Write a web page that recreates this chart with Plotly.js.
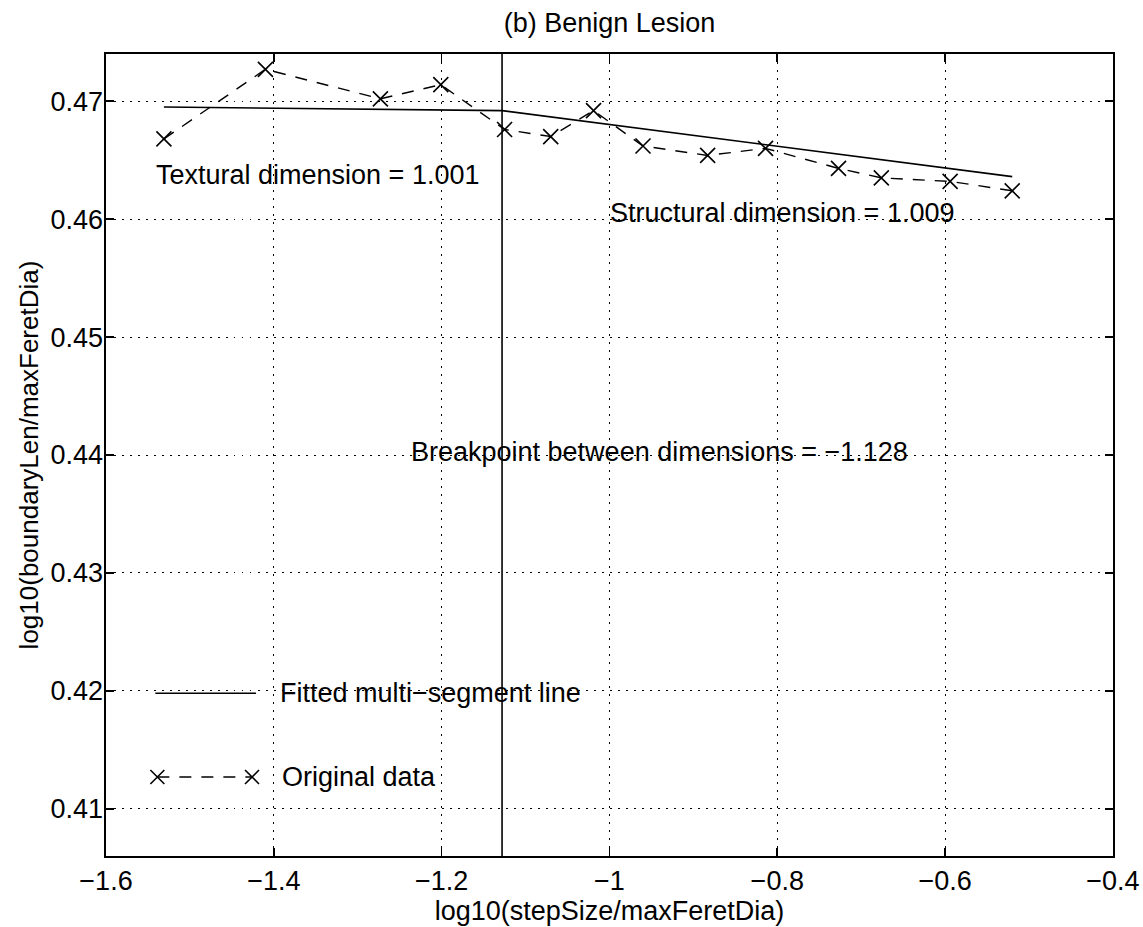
<!DOCTYPE html>
<html>
<head>
<meta charset="utf-8">
<script src="https://cdn.plot.ly/plotly-3.0.1.min.js"></script>
<style>html,body{margin:0;padding:0;background:#fff;}#chart{width:1143px;height:927px;}</style>
</head>
<body>
<div id="chart"></div>
<script>
// ---- data ----
const stepLog = [-1.531, -1.410, -1.273, -1.201, -1.125, -1.070, -1.019, -0.960, -0.883, -0.814, -0.727, -0.676, -0.594, -0.520];
const boundaryLog = [0.4668, 0.4727, 0.4702, 0.4714, 0.4676, 0.4670, 0.4692, 0.4662, 0.4654, 0.4660, 0.4643, 0.4635, 0.4632, 0.4624];
const fitX = [-1.531, -1.128, -0.520];
const fitY = [0.4695, 0.4692, 0.4636];
const breakpoint = -1.128;
const texturalDim = 1.001;
const structuralDim = 1.009;
const xTicks = [-1.6, -1.4, -1.2, -1, -0.8, -0.6, -0.4];
const xTickText = ['\u22121.6', '\u22121.4', '\u22121.2', '\u22121', '\u22120.8', '\u22120.6', '\u22120.4'];
const yTicks = [0.41, 0.42, 0.43, 0.44, 0.45, 0.46, 0.47];
const yTickText = ['0.41', '0.42', '0.43', '0.44', '0.45', '0.46', '0.47'];
const legendLabels = ['Fitted multi\u2212segment line', 'Original data'];

const FONT = 'Liberation Sans, Arial, Helvetica, sans-serif';
const FS = 27;

const traces = [
  {
    x: fitX, y: fitY, type: 'scatter', mode: 'lines',
    line: {color: '#000', width: 1.6}, showlegend: false, hoverinfo: 'skip'
  },
  {
    x: stepLog, y: boundaryLog, type: 'scatter', mode: 'lines+markers',
    line: {color: '#000', width: 1.4, dash: '12px,10px'},
    marker: {symbol: 'x-thin-open', size: 15, color: '#000', line: {color: '#000', width: 1.6}},
    showlegend: false, hoverinfo: 'skip'
  }
];

function xMark(xp, yp) {
  return {
    type: 'path', xref: 'paper', yref: 'paper', xsizemode: 'pixel', ysizemode: 'pixel',
    xanchor: xp, yanchor: yp, path: 'M-7,-7L7,7M-7,7L7,-7',
    line: {color: '#000', width: 1.6}
  };
}

const shapes = [
  {type: 'line', xref: 'x', yref: 'paper', x0: breakpoint, x1: breakpoint, y0: 0, y1: 1,
   line: {color: '#000', width: 1.6}},
  // legend samples
  {type: 'line', xref: 'paper', yref: 'paper', x0: 0.049, x1: 0.149, y0: 0.203, y1: 0.203,
   line: {color: '#000', width: 1.6}},
  {type: 'line', xref: 'paper', yref: 'paper', x0: 0.051, x1: 0.145, y0: 0.0985, y1: 0.0985,
   line: {color: '#000', width: 1.4, dash: '12px,10px'}},
  xMark(0.051, 0.0985),
  xMark(0.145, 0.0985)
];

const annotations = [
  {x: -1.543, y: 0.4637, xref: 'x', yref: 'y', xanchor: 'left', yanchor: 'middle', showarrow: false,
   text: 'Textural dimension = ' + texturalDim.toFixed(3), font: {family: FONT, size: FS, color: '#000'}},
  {x: -1.0017, y: 0.4605, xref: 'x', yref: 'y', xanchor: 'left', yanchor: 'middle', showarrow: false,
   text: 'Structural dimension = ' + structuralDim.toFixed(3), font: {family: FONT, size: FS, color: '#000'}},
  {x: -1.239, y: 0.44025, xref: 'x', yref: 'y', xanchor: 'left', yanchor: 'middle', showarrow: false,
   text: 'Breakpoint between dimensions = \u2212' + Math.abs(breakpoint).toFixed(3), font: {family: FONT, size: FS, color: '#000'}},
  {x: 0.171, y: 0.203, xref: 'paper', yref: 'paper', xanchor: 'left', yanchor: 'middle', showarrow: false,
   text: legendLabels[0], font: {family: FONT, size: FS, color: '#000'}},
  {x: 0.173, y: 0.0985, xref: 'paper', yref: 'paper', xanchor: 'left', yanchor: 'middle', showarrow: false,
   text: legendLabels[1], font: {family: FONT, size: FS, color: '#000'}}
];

const axisCommon = {
  showline: true, linecolor: '#000', linewidth: 1.6, mirror: 'allticks',
  ticks: 'inside', ticklen: 8, tickwidth: 1.6, tickcolor: '#000',
  showgrid: true, gridcolor: '#000', gridwidth: 1, griddash: '1.5px,6.5px',
  zeroline: false, tickfont: {family: FONT, size: FS, color: '#000'},
  ticklabeloverflow: 'allow'
};

const layout = {
  width: 1143, height: 927,
  margin: {l: 106, r: 30, t: 54, b: 71},
  paper_bgcolor: '#fff', plot_bgcolor: '#fff',
  showlegend: false,
  title: {text: '(b) Benign Lesion', font: {family: FONT, size: FS, color: '#000'},
          x: 0.5, xref: 'paper', y: 1 - 23 / 927, yref: 'container', yanchor: 'middle'},
  xaxis: Object.assign({}, axisCommon, {
    range: [-1.6, -0.3999], tickvals: xTicks, ticktext: xTickText,
    title: {text: 'log10(stepSize/maxFeretDia)', font: {family: FONT, size: FS, color: '#000'}, standoff: 0}
  }),
  yaxis: Object.assign({}, axisCommon, {
    range: [0.406, 0.474], tickvals: yTicks, ticktext: yTickText, ticklabelstandoff: -4,
    title: {text: 'log10(boundaryLen/maxFeretDia)', font: {family: FONT, size: 26, color: '#000'}, standoff: 4}
  }),
  shapes: shapes,
  annotations: annotations
};

Plotly.newPlot('chart', traces, layout, {staticPlot: true, displayModeBar: false});
</script>
</body>
</html>
